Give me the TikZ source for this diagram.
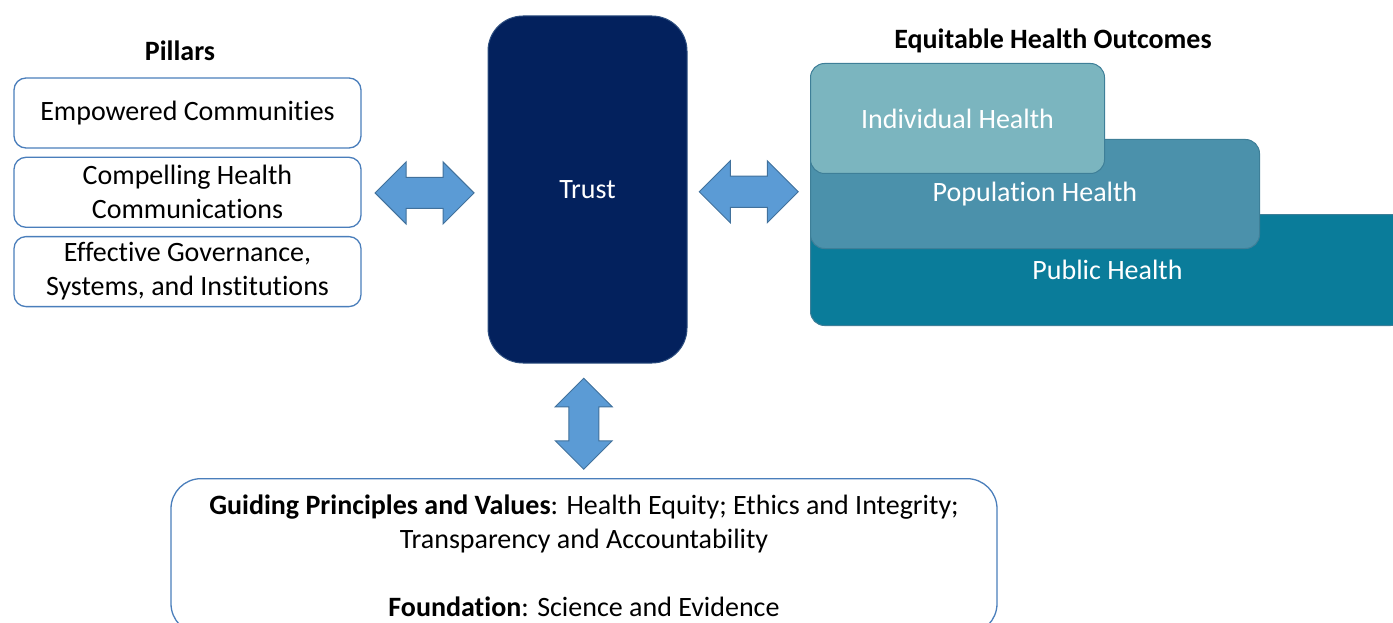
\documentclass[tikz,border=0pt]{standalone}
\usepackage{fontspec}
\setmainfont{Carlito}[RawFeature={-liga;-clig;-calt}]
\usetikzlibrary{positioning,shapes.arrows,calc}

\definecolor{trustblue}{HTML}{03215D}
\definecolor{trustline}{HTML}{2E4F80}
\definecolor{pillarline}{HTML}{4A7EBB}
\definecolor{linkblue}{HTML}{5B9BD5}
\definecolor{linkline}{HTML}{41719C}
\definecolor{individualteal}{HTML}{7BB5BF}
\definecolor{populationteal}{HTML}{4B91AB}
\definecolor{publicteal}{HTML}{0A7C9A}
\definecolor{outcomeline}{HTML}{3E7F98}

\tikzset{
every node/.style={font=\fontsize{28}{34}\selectfont, align=center},
}

\begin{document}
\begin{tikzpicture}
    [x=1pt, y=-1pt,
    heading/.style={font=\fontsize{28}{32}\selectfont\bfseries},
    pillar/.style={draw=pillarline, line width=1.3pt, rounded corners=12pt, fill=white,
        minimum width=347pt, minimum height=70pt, inner sep=0pt},
    outcome/.style={draw=outcomeline, line width=1pt, rounded corners=14pt, text=white,
        anchor=north west, inner sep=0pt},
    link/.style={double arrow, fill=linkblue, draw=linkline, line width=1pt,
        inner xsep=0pt, inner ysep=15pt, double arrow head extend=15.5pt,
        minimum height=99pt}
    ]

    \useasboundingbox (0,0) rectangle (1393,623);
    \clip (0,0) rectangle (1393,623);

    \node [heading] (pillars) at (180,51) {Pillars};

    \node [pillar] (empowered) at (187.5,113) {Empowered Communities};
    \node [pillar, below=8pt of empowered] (compelling) {Compelling Health\\Communications};
    \node [pillar, below=8pt of compelling] (governance) {Effective Governance,\\Systems, and Institutions};

    \node [draw=trustline, line width=1pt, fill=trustblue, rounded corners=35pt, text=white,
        minimum width=199pt, minimum height=347pt] (trust) at (587.5,189.5) {Trust};

    \node [heading] (outcomes) at (1053,41) {Equitable Health Outcomes};

    \node [outcome, fill=publicteal, minimum width=594pt, minimum height=111pt] (public) at (810,214) {Public Health};
    \node [outcome, fill=populationteal, minimum width=449pt, minimum height=109pt] (population) at (810,139) {Population Health};
    \node [outcome, fill=individualteal, minimum width=294pt, minimum height=110pt] (individual) at (810,63) {Individual Health};

    \node [draw=pillarline, line width=1.3pt, rounded corners=30pt, fill=white,
        minimum width=826pt, minimum height=155pt, anchor=north] (foundation) at (584,478)
    {
        \textbf{Guiding Principles and Values}: Health Equity; Ethics and Integrity;\\
        Transparency and Accountability\\[34pt]
        \textbf{Foundation}: Science and Evidence
    };

    \node [link] (pillarlink) at ($(compelling.east)!0.5!(trust.west)$) [yshift=-2pt] {};
    \node [link] (outcomelink) at ($(trust.east)!0.5!(population.west)$) {};
    \node [link, rotate=90, inner ysep=14.5pt, minimum height=91pt,
        double arrow head extend=13.5pt] (foundationlink) at ($(trust.south)!0.5!(foundation.north)$) [xshift=-3pt, yshift=2pt] {};

\end{tikzpicture}
\end{document}
